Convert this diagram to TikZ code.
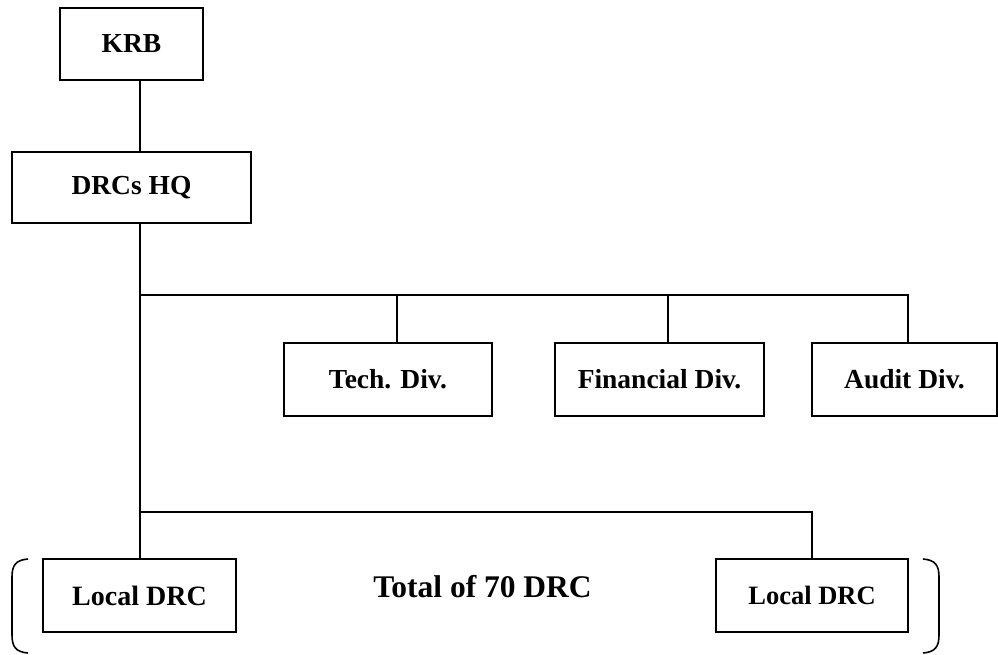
\documentclass[tikz,border=0pt]{standalone}
\usepackage{fontspec}
\setmainfont{Liberation Serif}
\begin{document}
\begin{tikzpicture}[x=1pt,y=-1pt,
  box/.style={draw, line width=2pt, inner sep=0pt, align=center, font=\fontsize{27.5}{30}\selectfont\bfseries},
  conn/.style={line width=2pt}]
\useasboundingbox (0,0) rectangle (998,655);
\node[box, minimum width=143pt, minimum height=72pt] (krb) at (131.5,44) {KRB};
\node[box, minimum width=239pt, minimum height=71pt] (hq) at (131.5,187.5) {DRCs HQ};
\node[box, minimum width=208pt, minimum height=73pt] (tech) at (388,379.5) {Tech. Div.};
\node[box, minimum width=209pt, minimum height=73pt] (fin) at (659.5,379.5) {Financial Div.};
\node[box, minimum width=185pt, minimum height=73pt] (aud) at (904.5,379.5) {Audit Div.};
\node[box, minimum width=193pt, minimum height=73pt, font=\fontsize{28}{30}\selectfont\bfseries] (locl) at (139.5,595.5) {Local DRC};
\node[box, minimum width=192pt, minimum height=73pt, font=\fontsize{26.5}{30}\selectfont\bfseries] (locr) at (812,595.5) {Local DRC};
\node[anchor=base, inner sep=0pt, font=\fontsize{31.5}{34}\selectfont\bfseries] (total) at (482.5,597) {Total of 70 DRC};
\coordinate (trunk) at (140,0);
\coordinate (bar1) at (0,295);
\coordinate (bar2) at (0,512);
\coordinate (techx) at (397,0);
\coordinate (finx) at (668,0);
\coordinate (audx) at (908,0);
\coordinate (locrx) at (812,0);
\draw[conn] (krb.south -| trunk) -- (hq.north -| trunk);
\draw[conn] (hq.south -| trunk) -- (locl.north -| trunk);
\draw[conn] (bar1 -| trunk) -- (bar1 -| audx) -- (aud.north -| audx);
\draw[conn] (bar1 -| techx) -- (tech.north -| techx);
\draw[conn] (bar1 -| finx) -- (fin.north -| finx);
\draw[conn] (bar2 -| trunk) -- (bar2 -| locrx) -- (locr.north);
\draw[line width=1.6pt] (28,559) .. controls (16,560) and (12,565) .. (12,577) -- (12,635) .. controls (12,647) and (16,652) .. (28,653);
\draw[line width=1.6pt] (923,559) .. controls (935,560) and (939,565) .. (939,577) -- (939,635) .. controls (939,647) and (935,652) .. (923,653);
\end{tikzpicture}
\end{document}
